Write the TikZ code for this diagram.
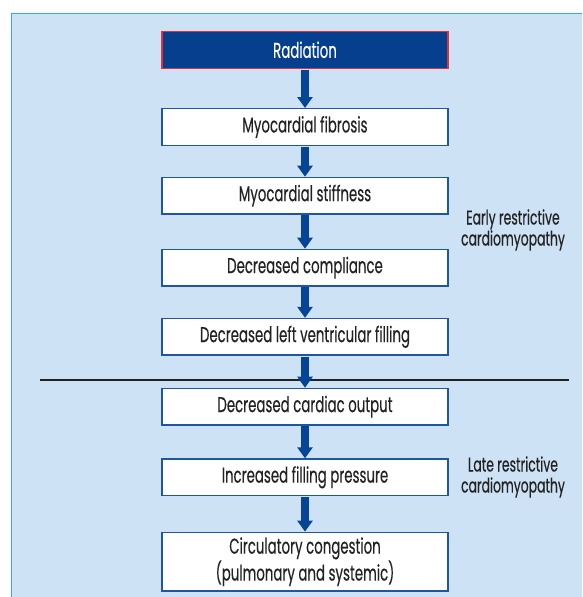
\documentclass[tikz,border=0pt]{standalone}
\usepackage{fontspec}
\setmainfont{Poppins}[FakeStretch=0.62, FakeBold=0.3]
\usetikzlibrary{arrows.meta}
\definecolor{panelfill}{HTML}{CEE2F5}
\definecolor{panelline}{HTML}{3AAAE0}
\definecolor{boxline}{HTML}{1F56A0}
\definecolor{radfill}{HTML}{053F8E}
\definecolor{radline}{HTML}{E0303F}
\definecolor{arrowblue}{HTML}{064496}
\definecolor{txt}{HTML}{222222}
\tikzset{
  flowbox/.style={draw=boxline, line width=1.4pt, fill=white, minimum width=286pt,
    text=txt, font=\fontsize{21.5}{22}\selectfont, align=center, inner sep=0pt},
  radbox/.style={flowbox, draw=radline, fill=radfill, text=white},
  flowarrow/.style={draw=arrowblue, line width=8pt,
    -{Triangle[width=15pt,length=11pt]}, shorten <=0.7pt},
  sidelabel/.style={text=txt, font=\fontsize{20}{21}\selectfont, align=center, inner sep=0pt},
}
\begin{document}
\begin{tikzpicture}[x=1pt,y=-1pt]
\useasboundingbox (0,0) rectangle (582,597);
\clip (0,0) rectangle (582,597);
\draw[fill=panelfill, draw=panelline, line width=1.5pt] (11.7,13.7) rectangle (600,620);
\node[radbox, minimum height=37pt] (rad) at (305,49.8) {Radiation};
\node[flowbox, minimum height=36.6pt] (fib) at (305,127) {Myocardial fibrosis};
\node[flowbox, minimum height=36.6pt] (stiff) at (305,195.7) {Myocardial stiffness};
\node[flowbox, minimum height=36.6pt] (comp) at (305,267.7) {Decreased compliance};
\node[flowbox, minimum height=36.6pt] (lv) at (305,336.8) {Decreased left ventricular filling};
\node[flowbox, minimum height=36.6pt] (co) at (305,406.7) {Decreased cardiac output};
\node[flowbox, minimum height=36.6pt] (fp) at (305,477.3) {Increased filling pressure};
\node[flowbox, minimum height=58.7pt] (cc) at (305,561.7) {Circulatory congestion\\(pulmonary and systemic)};
\coordinate (divL) at (40,380.3);
\coordinate (divR) at (569,380.3);
\draw[line width=2pt, draw=txt] (divL) -- (divR);
\foreach \a/\b in {rad/fib, fib/stiff, stiff/comp, comp/lv, lv/co, co/fp, fp/cc}
  \draw[flowarrow] (\a.south) -- (\b.north);
\node[sidelabel] (early) at (513,230) {Early restrictive\\cardiomyopathy};
\node[sidelabel] (late) at (513,477) {Late restrictive\\cardiomyopathy};
\end{tikzpicture}
\end{document}
